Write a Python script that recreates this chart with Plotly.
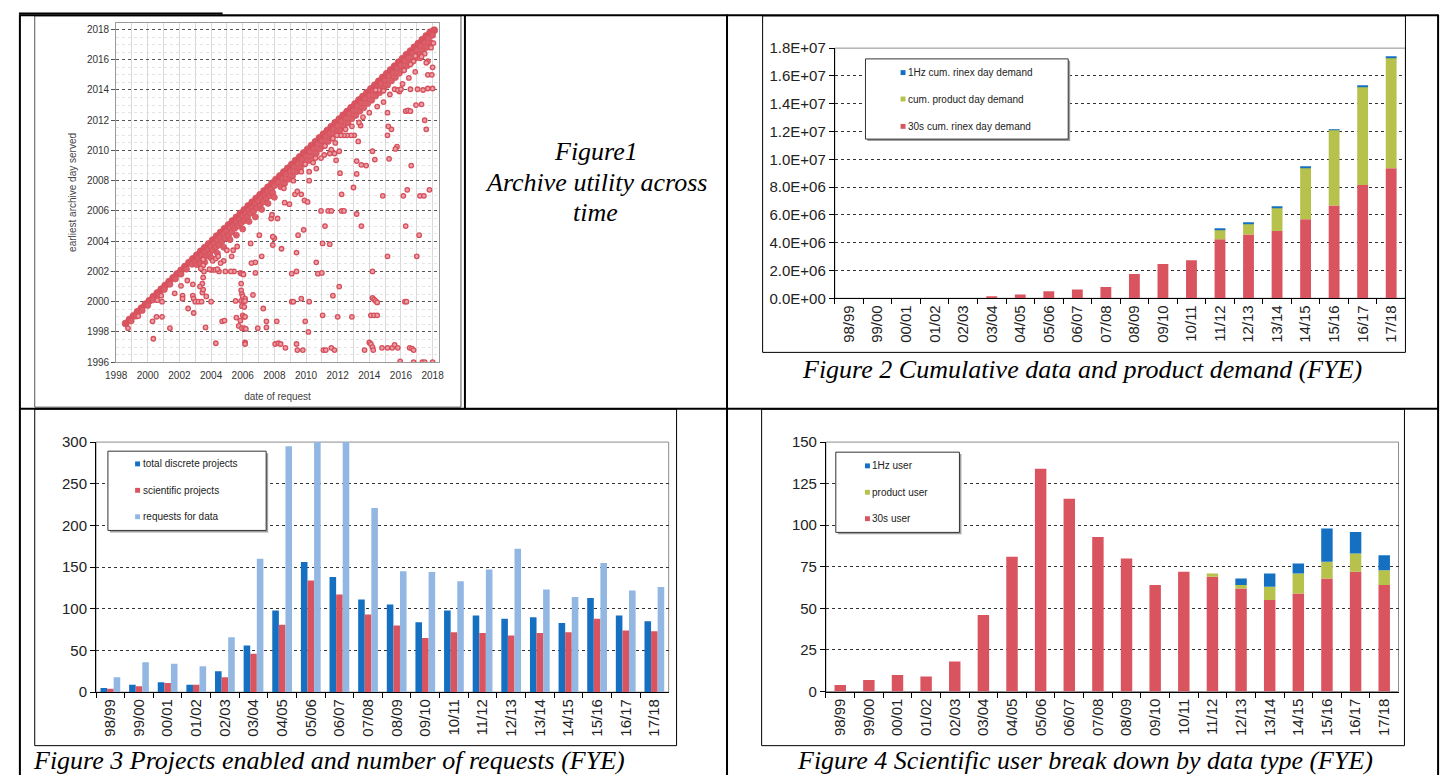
import plotly.graph_objects as go

W, H = 1451, 783
SANS = "Liberation Sans, Arial, sans-serif"
SERIF = "Liberation Serif, Times New Roman, serif"

RED = "#D9545F"
GREEN = "#B6C24C"
BLUE = "#1570C2"
LIGHT = "#93B7E3"

# ---------------- Figure 1 data (date of request vs earliest archive day served) ----------------
same_day_req = [1998.60, 1998.85,
                1999.10, 1999.35, 1999.60, 1999.85, 2000.10, 2000.35, 2000.60, 2000.85,
                2001.10, 2001.35, 2001.60, 2001.85, 2002.10, 2002.35, 2002.60, 2002.85,
                2003.10, 2003.35, 2003.60, 2003.85, 2004.10, 2004.35, 2004.60, 2004.85,
                2005.10, 2005.35, 2005.60, 2005.85, 2006.10, 2006.35, 2006.60, 2006.85,
                2007.10, 2007.35, 2007.60, 2007.85, 2008.10, 2008.35, 2008.60, 2008.85,
                2009.10, 2009.35, 2009.60, 2009.85, 2010.10, 2010.35, 2010.60, 2010.85,
                2011.10, 2011.35, 2011.60, 2011.85, 2012.10, 2012.35, 2012.60, 2012.85,
                2013.10, 2013.35, 2013.60, 2013.85, 2014.10, 2014.35, 2014.60, 2014.85,
                2015.10, 2015.35, 2015.60, 2015.85, 2016.10, 2016.35, 2016.60, 2016.85,
                2017.10, 2017.35, 2017.60, 2017.85, 2018.10]
same_day_srv = [1998.56, 1998.82,
                1999.06, 1999.33, 1999.57, 1999.83, 2000.06, 2000.33, 2000.57, 2000.82,
                2001.07, 2001.32, 2001.57, 2001.83, 2002.07, 2002.32, 2002.58, 2002.83,
                2003.07, 2003.33, 2003.57, 2003.82, 2004.07, 2004.33, 2004.57, 2004.82,
                2005.07, 2005.33, 2005.57, 2005.83, 2006.07, 2006.33, 2006.57, 2006.83,
                2007.07, 2007.32, 2007.57, 2007.83, 2008.07, 2008.32, 2008.57, 2008.82,
                2009.07, 2009.33, 2009.57, 2009.83, 2010.07, 2010.32, 2010.57, 2010.83,
                2011.07, 2011.32, 2011.57, 2011.83, 2012.07, 2012.33, 2012.57, 2012.82,
                2013.07, 2013.33, 2013.57, 2013.82, 2014.07, 2014.32, 2014.57, 2014.83,
                2015.07, 2015.32, 2015.57, 2015.83, 2016.07, 2016.33, 2016.57, 2016.82,
                2017.07, 2017.32, 2017.57, 2017.82, 2017.95]

near_band = [
    (1998.95, 1998.72), (1999.3, 1999.05), (1999.65, 1999.42), (2000.0, 1999.75), (2000.35, 2000.12),
    (2000.7, 2000.45), (2001.05, 2000.8), (2001.4, 2001.15), (2001.75, 2001.5), (2002.1, 2001.82),
    (2002.45, 2002.15),
    (2002.8, 2002.47), (2003.0, 2002.63), (2003.2, 2002.87), (2003.4, 2003.03), (2003.6, 2003.27),
    (2003.8, 2003.43), (2004.0, 2003.67), (2004.2, 2003.83), (2004.4, 2004.07), (2004.6, 2004.23),
    (2004.8, 2004.47), (2005.0, 2004.63), (2005.2, 2004.87), (2005.4, 2005.03), (2005.6, 2005.27),
    (2005.8, 2005.43), (2006.0, 2005.67), (2006.2, 2005.83), (2006.4, 2006.07), (2006.6, 2006.23),
    (2006.8, 2006.47), (2007.0, 2006.63), (2007.2, 2006.87), (2007.4, 2007.03), (2007.6, 2007.27),
    (2007.8, 2007.43), (2008.0, 2007.67),
    (2003.1, 2002.45), (2003.3, 2002.55), (2003.5, 2002.8), (2003.7, 2003.0), (2003.9, 2003.15),
    (2004.1, 2003.4), (2004.3, 2003.6), (2004.5, 2003.75), (2004.7, 2004.0), (2004.9, 2004.2),
    (2005.1, 2004.35), (2005.3, 2004.6), (2005.5, 2004.85), (2005.7, 2005.0), (2005.9, 2005.2),
    (2006.1, 2005.35), (2006.3, 2005.6), (2006.5, 2005.85), (2006.7, 2006.0), (2006.9, 2006.2),
    (2007.1, 2006.35), (2007.3, 2006.6), (2007.5, 2006.85), (2007.7, 2007.0), (2007.9, 2007.2),
    (2003.6, 2002.6), (2004.0, 2002.9), (2004.4, 2003.2), (2004.8, 2003.6), (2005.2, 2004.1),
    (2005.6, 2004.4), (2006.0, 2004.8), (2006.4, 2005.3), (2006.8, 2005.6), (2007.2, 2006.1),
    (2007.6, 2006.5), (2008.0, 2006.9),
    (2008.25, 2007.9), (2008.5, 2008.13), (2008.75, 2008.42), (2009.0, 2008.62), (2009.25, 2008.92),
    (2009.5, 2009.12), (2009.75, 2009.42), (2010.0, 2009.62), (2010.25, 2009.92), (2010.5, 2010.12),
    (2010.75, 2010.42), (2011.0, 2010.62), (2011.25, 2010.92), (2011.5, 2011.12), (2011.75, 2011.42),
    (2012.0, 2011.62), (2012.25, 2011.92), (2012.5, 2012.12), (2012.75, 2012.42), (2013.0, 2012.62),
    (2013.25, 2012.92), (2013.5, 2013.12), (2013.75, 2013.42), (2014.0, 2013.62), (2014.25, 2013.92),
    (2014.5, 2014.12), (2014.75, 2014.42), (2015.0, 2014.62), (2015.25, 2014.92), (2015.5, 2015.12),
    (2015.75, 2015.42), (2016.0, 2015.62), (2016.25, 2015.92), (2016.5, 2016.12), (2016.75, 2016.42),
    (2017.0, 2016.62), (2017.25, 2016.92), (2017.5, 2017.12), (2017.75, 2017.42), (2018.0, 2017.62),
    (2008.4, 2007.6), (2008.65, 2007.82), (2008.9, 2008.1), (2009.15, 2008.32), (2009.4, 2008.6),
    (2009.65, 2008.82), (2009.9, 2009.1), (2010.15, 2009.32), (2010.4, 2009.6), (2010.65, 2009.82),
    (2010.9, 2010.1), (2011.15, 2010.32), (2011.4, 2010.6), (2011.65, 2010.82), (2011.9, 2011.1),
    (2012.15, 2011.32), (2012.4, 2011.6), (2012.65, 2011.82), (2012.9, 2012.1), (2013.15, 2012.32),
    (2013.4, 2012.6), (2013.65, 2012.82), (2013.9, 2013.1), (2014.15, 2013.32), (2014.4, 2013.6),
    (2014.65, 2013.82), (2014.9, 2014.1), (2015.15, 2014.32), (2015.4, 2014.6), (2015.65, 2014.82),
    (2015.9, 2015.1), (2016.15, 2015.32), (2016.4, 2015.6), (2016.65, 2015.82), (2016.9, 2016.1),
    (2017.15, 2016.32), (2017.4, 2016.6), (2017.65, 2016.82), (2017.9, 2017.1),
]

outliers = [
    (2010.95, 2006.0), (2011.4, 2006.0), (2011.6, 2006.0), (2012.25, 2006.0), (2012.4, 2006.0), (2013.2, 2005.8),
    (2011.2, 2005.0), (2013.5, 2005.0), (2016.3, 2005.0), (2009.5, 2004.4), (2009.85, 2004.75), (2017.15, 2004.4),
    (2011.05, 2003.85), (2011.5, 2003.8), (2009.4, 2003.25), (2015.15, 2003.0), (2017.0, 2003.0), (2010.65, 2002.6),
    (2009.1, 2001.85), (2009.4, 2002.0), (2010.75, 2001.85), (2011.0, 2001.9), (2014.2, 2002.0), (2012.1, 2001.0),
    (2009.1, 2000.0), (2009.2, 2000.0), (2009.7, 2000.2), (2010.2, 2000.0), (2011.7, 2000.4),
    (2014.2, 2000.25), (2014.3, 2000.15), (2014.4, 2000.05), (2014.5, 1999.95), (2016.25, 2000.0), (2016.35, 2000.0),
    (2011.05, 1999.1), (2012.0, 1999.0), (2012.9, 1999.0), (2014.1, 1999.1), (2014.3, 1999.1), (2014.5, 1999.1),
    (2009.95, 1998.7), (2010.15, 1998.0), (2009.4, 1997.2), (2008.05, 1997.2), (2008.25, 1997.25), (2008.4, 1997.2),
    (2008.7, 1996.95), (2009.45, 1996.8), (2009.8, 1996.8), (2011.1, 1996.8), (2011.25, 1996.8), (2011.6, 1996.95),
    (2011.8, 1996.8), (2013.7, 1996.8), (2014.0, 1997.3), (2014.1, 1997.2), (2014.2, 1997.0), (2014.25, 1996.8),
    (2014.8, 1996.95), (2015.15, 1996.95), (2015.45, 1996.95), (2015.6, 1997.15), (2015.8, 1996.95),
    (2016.55, 1996.95), (2016.7, 1996.9), (2016.8, 1996.8), (2015.95, 1996.05), (2016.8, 1996.0),
    (2017.35, 1996.0), (2017.5, 1996.0), (2018.0, 1996.0),
    (2000.3, 1998.7), (2000.55, 1999.0), (2000.9, 1999.0), (2000.35, 1997.55), (2001.4, 1998.25), (1999.4, 1999.05),
    (1998.75, 1998.25), (2000.9, 2000.0), (2000.85, 2000.4), (2000.6, 2000.1), (2001.7, 2000.55), (2002.1, 2001.05),
    (2002.2, 2000.4), (2002.2, 2000.2), (2002.55, 1999.55), (2002.5, 2001.4), (2002.9, 1999.25), (2002.85, 2000.4),
    (2002.9, 2000.2), (2003.0, 2000.0), (2003.2, 2000.0), (2003.4, 2000.0), (2002.85, 2001.15), (2003.45, 2000.6),
    (2003.5, 2000.8), (2003.45, 2001.2), (2003.5, 2001.6), (2003.55, 2002.0), (2003.5, 2002.4), (2003.5, 2002.8),
    (2004.0, 2000.0), (2003.7, 2000.35), (2003.65, 1998.3), (2004.3, 1997.25), (2004.7, 1998.7), (2004.85, 1998.75),
    (2005.6, 1998.95), (2005.55, 2000.05), (2005.85, 2001.9), (2005.95, 2001.85), (2006.05, 2001.8), (2005.9, 2001.2),
    (2005.9, 2000.75), (2005.95, 2000.5), (2006.0, 2000.35), (2006.15, 2000.2), (2005.9, 2000.05), (2006.05, 2000.0),
    (2006.15, 2000.05), (2005.95, 1999.7), (2006.1, 1999.65), (2006.0, 1999.1), (2006.1, 1999.0), (2006.15, 1999.0),
    (2005.85, 1998.75), (2005.75, 1998.4), (2005.95, 1998.25), (2006.1, 1998.25), (2006.2, 1998.2), (2006.15, 1997.3),
    (2006.15, 1997.2), (2006.65, 2000.45), (2007.3, 1999.55), (2006.95, 1998.25), (2007.5, 1998.3), (2007.5, 1998.7),
    (2008.15, 1998.7), (2006.8, 2001.9), (2006.8, 2002.6), (2006.55, 2002.55), (2007.2, 2003.0), (2007.9, 2003.75),
    (2008.0, 2004.2), (2007.9, 2004.3), (2008.45, 2003.5), (2008.2, 2005.5), (2007.8, 2005.5), (2007.85, 2005.75),
    (2007.05, 2004.4), (2006.5, 2003.85), (2005.45, 2002.0), (2005.25, 2002.0), (2004.9, 2002.0), (2004.5, 2002.0),
    (2005.3, 2003.0), (2005.4, 2003.4), (2005.65, 2003.65), (2005.0, 2003.4), (2004.8, 2002.7), (2004.2, 2002.1),
    (2004.4, 2002.15), (2004.0, 2002.1), (2003.9, 2002.15), (2004.1, 2002.7), (2004.3, 2002.85), (2004.45, 2003.0),
    (2004.6, 2002.55), (2003.3, 2001.0), (2003.35, 2002.2),
    (2010.2, 2008.0), (2012.15, 2008.5), (2012.25, 2007.1), (2013.0, 2007.55), (2014.85, 2007.0), (2016.15, 2007.0),
    (2016.4, 2007.4), (2017.2, 2007.0), (2017.45, 2007.0), (2017.8, 2007.4), (2013.2, 2009.3), (2013.2, 2008.45),
    (2013.5, 2009.05), (2013.8, 2009.0), (2014.35, 2009.4), (2014.2, 2009.95), (2015.25, 2009.45), (2016.65, 2009.0),
    (2015.75, 2010.25), (2015.65, 2010.1), (2015.15, 2011.0), (2015.4, 2011.4), (2015.2, 2011.6), (2017.6, 2011.4),
    (2017.5, 2012.0), (2015.15, 2012.5), (2016.3, 2012.6), (2016.45, 2012.65), (2016.6, 2012.6), (2016.95, 2013.0),
    (2017.3, 2013.05), (2017.7, 2014.1), (2018.0, 2014.1), (2017.7, 2015.0), (2017.95, 2015.0), (2017.7, 2015.9),
    (2018.0, 2015.5), (2018.05, 2017.1), (2013.3, 2010.6), (2013.05, 2011.0), (2012.85, 2011.0), (2012.6, 2011.0),
    (2012.4, 2011.0), (2012.2, 2011.0), (2011.95, 2011.0), (2013.45, 2011.65), (2013.35, 2011.85), (2011.85, 2010.5),
    (2012.1, 2009.95), (2011.8, 2009.8), (2011.6, 2010.05), (2011.5, 2009.8), (2011.9, 2009.35), (2011.15, 2009.7),
    (2010.95, 2009.5), (2010.2, 2008.6), (2009.95, 2009.1), (2010.65, 2008.8), (2010.45, 2009.2), (2009.3, 2007.1),
    (2009.45, 2007.3), (2009.7, 2007.1), (2009.9, 2006.7), (2010.1, 2006.6), (2008.65, 2006.55), (2008.95, 2006.45),
    (2014.5, 2012.9), (2014.9, 2013.2), (2015.3, 2013.7), (2015.6, 2014.05), (2016.1, 2014.4), (2016.5, 2014.8),
    (2016.9, 2015.2), (2017.2, 2016.1), (2017.5, 2016.4), (2016.8, 2015.9), (2015.9, 2013.9), (2014.0, 2012.5),
    (2013.6, 2012.2), (2012.9, 2011.6), (2012.5, 2011.4), (2011.7, 2010.8), (2011.2, 2010.3), (2010.6, 2009.5),
    (2009.7, 2008.6), (2009.2, 2008.0), (2008.6, 2007.5), (2017.9, 2016.8), (2017.6, 2015.8), (2014.6, 2014.0),
    (2014.9, 2013.95), (2014.4, 2014.0), (2015.8, 2014.0), (2016.0, 2014.05), (2016.6, 2014.05), (2017.05, 2014.05),
    (2017.4, 2014.0), (2016.9, 2016.25), (2017.3, 2016.2), (2016.2, 2015.3), (2016.6, 2015.7),
]

# ---------------- Figures 2-4 data ----------------
fye = ["98/99", "99/00", "00/01", "01/02", "02/03", "03/04", "04/05", "05/06", "06/07", "07/08",
       "08/09", "09/10", "10/11", "11/12", "12/13", "13/14", "14/15", "15/16", "16/17", "17/18"]

demand_30s = [0, 0, 0, 0, 0, 1.5e5, 2.8e5, 5.0e5, 6.3e5, 8.2e5,
              1.74e6, 2.47e6, 2.73e6, 4.24e6, 4.59e6, 4.85e6, 5.69e6, 6.68e6, 8.16e6, 9.36e6]
demand_product = [0, 0, 0, 0, 0, 0, 0, 0, 0, 0,
                  0, 0, 0, 0.70e6, 0.77e6, 1.64e6, 3.72e6, 5.44e6, 7.04e6, 7.96e6]
demand_1hz = [0, 0, 0, 0, 0, 0, 0, 0, 0, 0,
              0, 0, 0, 0.10e6, 0.05e6, 0.07e6, 0.09e6, 0.05e6, 0.09e6, 0.07e6]
fig2_tickvals = [0, 2e6, 4e6, 6e6, 8e6, 1e7, 1.2e7, 1.4e7, 1.6e7, 1.8e7]
fig2_ticktext = ["0.0E+00", "2.0E+06", "4.0E+06", "6.0E+06", "8.0E+06",
                 "1.0E+07", "1.2E+07", "1.4E+07", "1.6E+07", "1.8E+07"]

total_projects = [5, 9, 12, 9, 25, 56, 98, 156, 138, 111, 105, 84, 98, 92, 88, 90, 83, 113, 92, 85]
scientific_projects = [4, 7, 11, 9, 18, 46, 81, 134, 117, 93, 80, 65, 72, 71, 68, 71, 72, 88, 74, 73]
data_requests = [18, 36, 34, 31, 66, 160, 295, 300, 300, 221, 145, 144, 133, 147, 172, 123, 114, 155, 122, 126]

user_30s = [4, 7, 10, 9, 18, 46, 81, 134, 116, 93, 80, 64, 72, 69, 62, 55, 59, 68, 72, 64]
user_product = [0, 0, 0, 0, 0, 0, 0, 0, 0, 0, 0, 0, 0, 2, 2, 8, 12, 10, 11, 9]
user_1hz = [0, 0, 0, 0, 0, 0, 0, 0, 0, 0, 0, 0, 0, 0, 4, 8, 6, 20, 13, 9]


def X(px):
    return px / W


def Y(py):
    return 1 - py / H


fig = go.Figure()

# ---- Figure 1 scatter ----
fig.add_trace(go.Scatter(x=same_day_req, y=same_day_srv, mode="markers",
                         marker=dict(size=7, color="#D9545F", line=dict(color="#D4505C", width=0.8)),
                         xaxis="x", yaxis="y", showlegend=False, hoverinfo="skip"))
fig.add_trace(go.Scatter(x=[p[0] for p in near_band], y=[p[1] for p in near_band], mode="markers",
                         marker=dict(size=6, color="#DB5E69", line=dict(color="#D4505C", width=0.8)),
                         xaxis="x", yaxis="y", showlegend=False, hoverinfo="skip"))
fig.add_trace(go.Scatter(x=[p[0] for p in outliers], y=[p[1] for p in outliers], mode="markers",
                         marker=dict(size=4.5, color="#EC9EA6", line=dict(color="#D6505C", width=1.3)),
                         xaxis="x", yaxis="y", showlegend=False, hoverinfo="skip"))


# ---- stacked bars helper ----
def stacked(series, xa, ya, width):
    base = [0] * len(fye)
    for vals, color, name in series:
        fig.add_trace(go.Bar(x=fye, y=vals, base=list(base), width=width, offset=-width / 2, name=name,
                             marker=dict(color=color, line=dict(width=0)),
                             xaxis=xa, yaxis=ya, showlegend=False))
        base = [b + v for b, v in zip(base, vals)]


stacked([(demand_30s, RED, "30s cum. rinex day demand"),
         (demand_product, GREEN, "cum. product day demand"),
         (demand_1hz, BLUE, "1Hz cum. rinex day demand")], "x2", "y2", 0.38)

bw = 0.23
for i, (vals, color, name) in enumerate([(total_projects, BLUE, "total discrete projects"),
                                         (scientific_projects, RED, "scientific projects"),
                                         (data_requests, LIGHT, "requests for data")]):
    fig.add_trace(go.Bar(x=fye, y=vals, width=bw, offset=-1.5 * bw + i * bw, name=name,
                         marker=dict(color=color, line=dict(width=0)),
                         xaxis="x3", yaxis="y3", showlegend=False))

stacked([(user_30s, RED, "30s user"),
         (user_product, GREEN, "product user"),
         (user_1hz, BLUE, "1Hz user")], "x4", "y4", 0.40)


# ---- axes ----
def cat_axis(x0, x1, anchor):
    return dict(domain=[X(x0), X(x1)], anchor=anchor, type="category", range=[-0.5, 19.5],
                showline=True, linecolor="#000", linewidth=1, ticks="outside", ticklen=5,
                tickcolor="#000", tickson="boundaries", tickangle=-90,
                tickfont=dict(family=SANS, size=15, color="#222"), showgrid=False, zeroline=False,
                fixedrange=True)


def val_axis(y0, y1, anchor, rng, tickvals, ticktext=None):
    d = dict(domain=[Y(y1), Y(y0)], anchor=anchor, range=rng, tickmode="array", tickvals=tickvals,
             showline=True, linecolor="#000", linewidth=1, ticks="outside", ticklen=5, tickcolor="#000",
             showgrid=True, gridcolor="#333", griddash="dot", gridwidth=1, zeroline=False,
             tickfont=dict(family=SANS, size=15, color="#222"), fixedrange=True)
    if ticktext is not None:
        d["ticktext"] = ticktext
    return d


fig.update_layout(
    width=W, height=H, margin=dict(l=0, r=0, t=0, b=0),
    paper_bgcolor="white", plot_bgcolor="white", barmode="overlay", showlegend=False,
    xaxis=dict(domain=[X(106.3), X(432.7)], anchor="y", range=[1998, 2018.4], tick0=1998, dtick=2,
               showgrid=True, gridcolor="#dadada", gridwidth=1,
               minor=dict(dtick=1, tick0=1998, showgrid=True, gridcolor="#dadada"),
               showline=True, linecolor="#9a9a9a", mirror=True, zeroline=False,
               ticks="outside", ticklen=4, tickcolor="rgba(0,0,0,0)",
               tickfont=dict(family=SANS, size=10, color="#333"),
               title=dict(text="date of request", font=dict(family=SANS, size=10, color="#444"), standoff=12)),
    yaxis=dict(domain=[Y(361), Y(14)], anchor="x", range=[1996, 2018.45], tick0=1996, dtick=2,
               showgrid=True, gridcolor="#555", griddash="dot", gridwidth=1,
               minor=dict(dtick=0.5, tick0=1996, showgrid=True, gridcolor="#e4e4e4"),
               showline=True, linecolor="#9a9a9a", mirror=True, zeroline=False,
               ticks="outside", ticklen=4, tickcolor="#555",
               tickfont=dict(family=SANS, size=10, color="#333"),
               title=dict(text="earliest archive day served", font=dict(family=SANS, size=10, color="#444"),
                          standoff=8)),
    xaxis2=cat_axis(833, 1410, "y2"),
    yaxis2=val_axis(40, 295.7, "x2", [0, 1.8e7], fig2_tickvals, fig2_ticktext),
    xaxis3=cat_axis(86, 665, "y3"),
    yaxis3=val_axis(442.7, 698.3, "x3", [0, 300], [0, 50, 100, 150, 200, 250, 300]),
    xaxis4=cat_axis(824, 1403, "y4"),
    yaxis4=val_axis(442.7, 697.7, "x4", [0, 150], [0, 25, 50, 75, 100, 125, 150]),
)

shapes = []


def line(x0, y0, x1, y1, color="#000", width=2):
    shapes.append(dict(type="line", xref="paper", yref="paper", x0=X(x0), y0=Y(y0), x1=X(x1), y1=Y(y1),
                       line=dict(color=color, width=width), layer="above"))


def rect(x0, y0, x1, y1, color="#000", width=1, fill=None):
    shapes.append(dict(type="rect", xref="paper", yref="paper", x0=X(x0), y0=Y(y1), x1=X(x1), y1=Y(y0),
                       line=dict(color=color, width=width), fillcolor=fill, layer="above"))


# plot-area borders of figures 2-4
for xa, ya in (("x2", "y2"), ("x3", "y3"), ("x4", "y4")):
    shapes.append(dict(type="rect", xref=xa + " domain", yref=ya + " domain", x0=0, x1=1, y0=0, y1=1,
                       line=dict(color="#8c8c8c", width=1), layer="below"))

# chart boxes
rect(24, 7, 455, 407, color="#555")
rect(760, 7, 1410, 351)
rect(24, 409, 673, 753)
rect(759, 409, 1409, 753)

# table rules
line(8, 4.5, 214, 4.5)
line(9, 6.5, 1443, 6.5)
line(9, 5.5, 9, 783)
line(459, 6.5, 459, 408.5)
line(724, 5.5, 724, 783)
line(1443, 5.5, 1443, 783)
line(9, 408.5, 1443, 408.5)

annotations = []


def text(s, px, py, size, xanchor="left", family=SANS, color="#222"):
    annotations.append(dict(text=s, x=X(px), y=Y(py), xref="paper", yref="paper", showarrow=False,
                            xanchor=xanchor, yanchor="middle", font=dict(family=family, size=size, color=color)))


def legend(box, mx, tx, items):
    x0, y0, x1, y1 = box
    rect(x0 + 2, y0 + 2, x1 + 2, y1 + 2, color="#a0a0a0", width=0, fill="#a0a0a0")
    rect(x0, y0, x1, y1, color="#333", width=1, fill="white")
    for label, color, yy in items:
        rect(mx - 2.5, yy - 2.5, mx + 2.5, yy + 2.5, color=color, width=0, fill=color)
        text(label, tx, yy, 10)


legend((864, 51, 1069, 133), 902, 905,
       [("1Hz cum. rinex day demand", BLUE, 65), ("cum. product day demand", GREEN, 92),
        ("30s cum. rinex day demand", RED, 120)])
legend((98, 452, 258, 533), 128, 131,
       [("total discrete projects", BLUE, 465), ("scientific projects", RED, 492),
        ("requests for data", LIGHT, 519)])
legend((834, 453, 959, 535), 866, 869,
       [("1Hz user", BLUE, 467), ("product user", GREEN, 494), ("30s user", RED, 521)])

# captions
text("<i>Figure1</i>", 591.5, 146, 26, "center", SERIF, "#000")
text("<i>Archive utility across</i>", 591.5, 177, 26, "center", SERIF, "#000")
text("<i>time</i>", 591.5, 208, 26, "center", SERIF, "#000")
text("<i>Figure 2 Cumulative data and product demand (FYE)</i>", 1083, 368, 26, "center", SERIF, "#000")
text("<i>Figure 3 Projects enabled and number of requests (FYE)</i>", 20, 768, 26, "left", SERIF, "#000")
text("<i>Figure 4 Scientific user break down by data type (FYE)</i>", 1086, 768, 26, "center", SERIF, "#000")

fig.update_layout(shapes=shapes, annotations=annotations)

fig.write_html("out.html", config={"displayModeBar": False},
               post_script="document.body.style.margin='0';document.body.style.overflow='hidden';")
